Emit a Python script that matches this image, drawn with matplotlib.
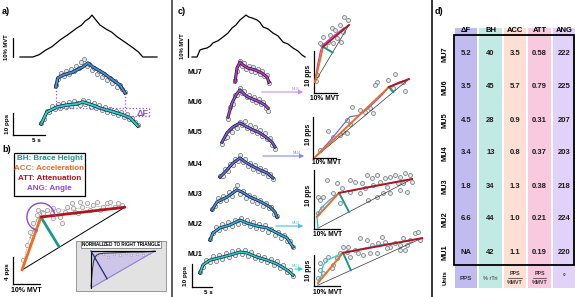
import numpy as np
import matplotlib
matplotlib.use("Agg")
import matplotlib.pyplot as plt
import matplotlib.patheffects as pe
from matplotlib.patches import Rectangle, Polygon

plt.rcParams["font.family"] = ["Liberation Sans", "DejaVu Sans"]
plt.rcParams["font.weight"] = "bold"

# ====================== DATA ======================
# (a) force trace: time (s), force (%MVT)
a_force_t = [0, 2.0, 3.0, 4.0, 5.0, 6.25, 7.5, 8.9, 9.6, 10.2, 10.8, 11.25, 11.8, 12.5, 13.5, 14.3, 15.2, 16.5, 17.7, 18.5, 19.2, 21.4]
a_force = [0, 0, 1.2, 3.5, 5.3, 8.7, 11.5, 14.9, 16.3, 18.5, 19.8, 21.5, 19.2, 16.4, 14.2, 12.8, 10.3, 7.4, 4.6, 2.6, 0, 0]
# (a) low-threshold (test) unit: smoothed rate and instantaneous rates (pps)
a_low_t = [3.3, 4.2, 5.8, 7.3, 8.9, 9.8, 11.3, 12.5, 14.1, 16.1, 17.2, 18.4]
a_low_rate = [7.3, 12.7, 15.0, 15.9, 16.4, 17.3, 15.9, 14.5, 13.2, 11.4, 10.0, 6.4]
a_low_scatter = [7.8, 9.4, 13.4, 12.8, 15.3, 13.9, 16.2, 14.6, 16.8, 15.0, 17.1, 15.4, 17.6, 16.9, 15.7, 18.4,
                 16.2, 17.5, 15.2, 16.8, 14.4, 15.9, 13.5, 15.1, 12.9, 14.0, 12.1, 13.3, 11.2, 12.6, 10.5, 11.8,
                 9.6, 10.1, 8.4, 7.0]
# (a) higher-threshold (control) unit
a_high_t = [5.6, 5.9, 6.7, 8.3, 9.8, 10.6, 11.4, 13.0, 14.5, 15.6, 16.4]
a_high_rate = [9.1, 13.2, 14.5, 15.9, 18.2, 20.0, 18.2, 15.5, 12.3, 10.0, 6.4]
a_high_scatter = [9.8, 12.7, 15.3, 14.1, 16.4, 14.9, 17.3, 16.4, 18.6, 17.7, 20.3, 21.6, 18.5, 19.6, 16.9, 17.9,
                  15.2, 16.4, 13.8, 14.9, 12.3, 13.4, 10.9, 11.9, 9.3, 10.2, 8.1, 7.0]

# (b) schematic: force (%MVT), rate (pps)
b_start = (0.0, 0.0)
b_knee = (7.0, 7.85)
b_end = (38.1, 9.3)
b_fit_x = [0.0, 1.5, 3.0, 4.5, 6.0, 8.0, 11.0, 15.0, 20.0, 25.0, 30.0, 35.0, 38.1]
b_fit_y = [0.0, 2.8, 5.0, 6.6, 7.8, 8.5, 8.8, 8.9, 9.1, 9.3, 9.5, 9.5, 9.3]
b_pts_x = [0.4, 1.9, 3.7, 3.0, 4.8, 4.1, 5.9, 5.6, 7.4, 9.3, 11.1, 11.5, 13.3, 14.1, 14.8, 16.7, 18.5, 18.9, 20.7,
           22.2, 24.1, 25.2, 26.3, 27.8, 28.9, 30.0, 31.5, 32.6, 34.4, 35.6, 37.0, 21.5, 19.6, 11.5, 15.9, 7.8, 5.9]
b_pts_y = [1.5, 3.7, 4.9, 5.6, 5.9, 7.0, 7.4, 8.1, 8.6, 8.9, 8.4, 9.2, 8.9, 7.9, 7.0, 9.3, 9.9, 9.2, 8.4,
           9.3, 9.9, 8.9, 9.6, 10.1, 8.9, 9.3, 9.9, 10.1, 9.3, 9.9, 9.6, 10.1, 8.6, 7.7, 8.6, 8.4, 8.9]
# (b) inset, normalized to right triangle
ins_curve_x = [0.0, 0.02, 0.04, 0.07, 0.12, 0.2, 0.35, 0.5, 0.65, 0.8, 0.9, 1.0]
ins_curve_y = [0.05, 0.45, 0.72, 0.86, 0.92, 0.94, 0.95, 0.96, 0.97, 0.97, 0.98, 1.0]
ins_pts_x = [0.04, 0.1, 0.18, 0.27, 0.36, 0.45, 0.55, 0.63, 0.72, 0.82, 0.9]
ins_pts_y = [0.78, 0.88, 0.92, 0.85, 0.93, 0.88, 0.94, 0.89, 0.93, 0.9, 0.95]

# (c) force trace
c_force_t = [0, 1.25, 2, 2.6, 3.75, 4.5, 5.25, 6.5, 7.75, 9, 10, 11, 12, 12.8, 13.5, 14.2, 15, 16.25, 17, 17.75,
             19, 20.25, 21.5, 22.75, 24, 25.25, 26.5, 27.5, 28.25]
c_force = [0, 0, 3.9, 4.4, 5.0, 6.0, 7.8, 9.0, 11.1, 13.3, 16.1, 17.8, 20.6, 22.0, 23.3, 22.2, 21.7, 20.6, 19.2,
           16.7, 15.6, 13.3, 11.7, 8.3, 7.2, 5.0, 3.3, 1.1, 0]
# (c) motor units, MU1 .. MU7
mu_names = ["MU1", "MU2", "MU3", "MU4", "MU5", "MU6", "MU7"]
mu_colors = ["#22d0dc", "#28b6ec", "#3d8ee6", "#606fe6", "#8355e2", "#a548e0", "#c62fd4"]
mu_t = [
    [2, 2.75, 4.5, 7.5, 9.5, 12, 13.75, 16.25, 18.75, 21.25, 23.75, 25.25],
    [4.5, 5.25, 7, 9.5, 12, 13.75, 16.25, 18.75, 21.25, 23.75, 25.25],
    [5, 6.25, 8.75, 11.25, 12.5, 14.5, 16.25, 17.75, 19.5, 20.75, 21.25],
    [7, 8.75, 10.25, 12, 13.25, 15, 17, 18.75, 20.25],
    [7.5, 8.75, 10.25, 12, 13.75, 15.25, 17, 18.75, 20, 20.75],
    [9, 10, 11, 12, 13.25, 14, 15.75, 17, 18.25, 19],
    [10.75, 11.25, 12, 12.75, 14, 15.75, 17.5, 18.75, 19.25],
]
mu_rate = [
    [7.4, 10.9, 13.0, 14.3, 15.2, 16.5, 16.1, 14.3, 13.0, 11.3, 8.7, 6.5],
    [8.2, 11.3, 13.5, 14.8, 16.9, 15.6, 14.3, 13.5, 11.3, 9.1, 5.2],
    [7.8, 11.3, 13.4, 16.5, 15.6, 13.4, 12.1, 10.8, 9.1, 6.9, 4.7],
    [8.6, 11.7, 14.7, 16.9, 15.2, 13.4, 11.7, 10.4, 8.2],
    [10.3, 14.3, 16.9, 18.6, 16.9, 15.6, 14.3, 12.1, 10.3, 8.2],
    [7.7, 13.8, 17.3, 19.5, 17.3, 16.4, 15.1, 14.2, 12.9, 11.6],
    [9.4, 15.5, 18.1, 16.8, 15.5, 14.7, 13.3, 11.6, 9.4],
]
mu_scatter = [
    [8.0, 10.2, 13.1, 12.2, 14.6, 12.8, 15.3, 13.5, 16.0, 14.2, 16.8, 15.1, 17.6, 15.5, 17.4, 14.9, 16.4, 13.8,
     15.4, 12.9, 14.5, 12.1, 13.6, 11.0, 12.4, 9.6, 10.8, 8.0, 8.9, 6.0],
    [8.8, 11.2, 13.9, 12.6, 15.0, 13.4, 15.9, 14.3, 16.9, 15.4, 18.0, 15.6, 17.0, 14.4, 16.0, 13.5, 15.2, 12.9,
     14.6, 11.9, 13.2, 10.6, 11.9, 9.1, 10.4, 7.6, 7.9, 5.0],
    [8.4, 9.7, 12.9, 11.6, 14.0, 12.3, 15.4, 14.0, 17.1, 18.8, 14.7, 16.0, 13.1, 14.3, 11.8, 13.4, 10.9, 12.2,
     9.7, 10.9, 8.5, 9.2, 6.1, 5.2],
    [9.2, 9.0, 12.1, 11.3, 14.4, 13.9, 16.6, 15.4, 18.0, 15.2, 16.4, 13.5, 14.7, 12.2, 13.8, 11.1, 12.7, 10.3,
     11.6, 9.1, 9.9, 7.6],
    [9.4, 12.3, 12.7, 15.6, 14.9, 17.5, 16.4, 19.0, 17.7, 19.3, 16.5, 17.8, 15.3, 16.9, 14.2, 15.5, 13.1, 14.1,
     11.6, 12.2, 9.1, 7.5],
    [7.0, 11.9, 13.2, 17.1, 17.1, 20.4, 18.2, 19.1, 16.2, 17.4, 15.0, 16.4, 14.1, 15.5, 13.2, 14.3, 11.8, 10.4],
    [10.2, 14.4, 18.6, 16.4, 17.6, 15.1, 16.6, 14.3, 15.9, 13.9, 15.2, 13.0, 14.3, 11.9, 12.4, 9.0],
]
# (c) rate-vs-force fits for selected units: force (%MVT), rate (pps)
fit_units = ["MU6", "MU4", "MU2", "MU1"]
fit_base = [(0.4, 2.6), (0.9, 0.2), (1.7, 0.2), (1.7, 0.2)]
fit_start = [(0.4, 2.6), (0.9, 0.2), (1.3, 2.9), (1.7, 0.7)]
fit_knee = [(3.9, 11.0), (33.0, 16.9), (10.9, 8.6), (12.6, 7.9)]
fit_end = [(15.2, 16.2), (41.7, 18.8), (42.6, 11.9), (47.0, 11.4)]
fit_line_x = [
    [0.4, 1.5, 2.8, 3.9, 5.5, 7.5, 10.0, 13.0],
    [0.9, 8.0, 14.0, 16.0, 20.0, 24.0, 30.0, 33.0, 38.0],
    [1.7, 1.3, 2.5, 4.0, 7.0, 10.9, 15.0, 20.0, 25.0, 30.0, 35.0, 42.6],
    [1.7, 2.0, 3.2, 4.0, 6.0, 9.0, 12.6, 20.0, 30.0, 38.0, 47.0],
]
fit_line_y = [
    [2.6, 6.5, 10.0, 11.5, 12.2, 13.2, 14.2, 15.5],
    [0.2, 4.5, 8.5, 9.8, 10.2, 11.8, 15.0, 16.9, 18.2],
    [0.2, 3.0, 4.5, 5.5, 7.0, 8.6, 9.0, 9.5, 10.2, 10.6, 11.2, 11.9],
    [0.2, 1.5, 2.4, 5.0, 6.2, 7.0, 7.9, 8.8, 9.9, 10.5, 11.4],
]
fit_pts_x = [
    [13.0, 14.8, 11.3, 7.8, 9.1, 12.6, 7.0, 3.9, 10.0, 6.1, 3.5, 4.8, 2.6, 1.3, 0.9, 8.3, 11.7],
    [35.7, 32.6, 27.8, 27.0, 39.1, 40.0, 34.8, 17.0, 20.4, 22.6, 24.8, 26.1, 14.8, 13.0, 14.8, 16.1, 6.5, 11.7,
     8.7, 3.0],
    [5.7, 10.0, 12.2, 15.7, 17.8, 20.9, 23.0, 25.2, 27.4, 28.7, 30.9, 33.0, 35.2, 37.4, 39.6, 41.7, 40.4, 37.4,
     33.0, 30.0, 27.4, 23.5, 1.7, 2.6, 3.9, 3.5, 1.7, 8.3, 11.3, 15.7, 20.0, 22.2, 25.7, 31.7, 36.5, 42.6, 38.7],
    [2.6, 4.8, 6.1, 8.3, 10.0, 11.3, 14.3, 15.7, 17.8, 19.1, 20.0, 23.0, 25.2, 27.8, 29.6, 30.9, 33.0, 35.2,
     37.4, 38.7, 40.4, 41.7, 43.9, 45.2, 46.1, 37.4, 39.6, 24.3, 21.3, 27.4, 31.7, 2.6, 3.9, 7.8, 1.7, 12.6, 14.8],
]
fit_pts_y = [
    [18.1, 17.4, 16.2, 15.5, 15.0, 14.5, 13.8, 13.3, 13.1, 12.1, 11.4, 11.2, 11.9, 4.3, 2.9, 11.9, 12.1],
    [20.0, 18.6, 18.1, 17.4, 18.1, 16.0, 16.7, 12.1, 11.4, 11.0, 11.9, 10.7, 9.0, 6.2, 6.0, 8.1, 6.4, 5.5, 5.0,
     1.9],
    [11.7, 11.0, 9.8, 11.7, 11.2, 11.0, 12.9, 12.1, 12.9, 11.2, 12.1, 12.4, 12.9, 12.4, 13.3, 12.9, 8.8, 9.3,
     8.6, 8.6, 7.6, 6.9, 7.6, 6.9, 7.6, 5.0, 3.8, 8.6, 6.2, 8.8, 8.6, 9.8, 10.5, 10.0, 11.0, 11.2, 11.0],
    [5.5, 6.2, 6.9, 5.0, 6.7, 7.9, 8.1, 6.9, 8.6, 7.9, 11.4, 11.0, 9.8, 10.2, 11.7, 10.5, 9.3, 10.2, 9.8, 11.4,
     9.8, 11.0, 12.6, 12.9, 11.0, 8.6, 8.6, 7.9, 7.4, 7.9, 9.0, 3.8, 3.1, 4.3, 1.9, 9.3, 9.3],
]

# (d) table
tbl_cols = ["\u0394F", "BH", "ACC", "ATT", "ANG"]
tbl_rows = ["MU7", "MU6", "MU5", "MU4", "MU3", "MU2", "MU1"]
tbl_dF = ["5.2", "3.5", "4.5", "3.4", "1.8", "6.6", "NA"]
tbl_BH = [40, 45, 28, 13, 34, 44, 42]
tbl_ACC = [3.5, 5.7, 0.9, 0.8, 1.3, 1.0, 1.1]
tbl_ATT = [0.58, 0.79, 0.31, 0.37, 0.38, 0.21, 0.19]
tbl_ANG = [222, 225, 207, 203, 218, 224, 220]
tbl_col_colors = ["#c1bbf2", "#c2eae4", "#fddfd3", "#f8c9df", "#e2d1f8"]

# ====================== STYLE ======================
ORANGE = "#f36a21"
RED = "#b5121b"
TEAL = "#169a8c"
PURPLE = "#8d45e6"
DFCOL = "#8a55c8"
BLUE_A = "#3d8fe3"
CYAN_A = "#1fd4d8"
SC = dict(ls="none", marker="o", ms=3.0, mfc="#e3eaea", mec="#56616b", mew=0.45)

W, H = 575, 297
fig = plt.figure(figsize=(W / 100, H / 100), dpi=100)

ov = fig.add_axes([0, 0, 1, 1])
ov.set_xlim(0, W)
ov.set_ylim(H, 0)
ov.set_axis_off()


def px_axes(l, t, r, b, ox, oy, sx, sy):
    ax = fig.add_axes([l / W, 1 - b / H, (r - l) / W, (b - t) / H])
    ax.set_xlim((l - ox) / sx, (r - ox) / sx)
    ax.set_ylim((oy - b) / sy, (oy - t) / sy)
    ax.set_axis_off()
    return ax


def foot(ax, p0, p1, q):
    T = ax.transData
    a, b, c = T.transform([p0, p1, q])
    d = b - a
    t = np.dot(c - a, d) / np.dot(d, d)
    return T.inverted().transform(a + t * d)


def stroked(lw):
    return [pe.Stroke(linewidth=lw + 1.0, foreground="#1a1a1a"), pe.Normal()]


# separators and panel labels
ov.plot([171.5, 171.5], [0, H], color="#333333", lw=1.1)
ov.plot([432, 432], [0, H], color="#333333", lw=1.4)
for lab, x, y in [("a)", 2, 12), ("b)", 2, 150), ("c)", 178, 12), ("d)", 435, 12)]:
    ov.text(x, y, lab, fontsize=6.5, ha="left", va="center")

# ---------------- (a) ----------------
sxa, sfa, sra = 6.4, 1.95, 2.2
axAf = px_axes(0, 8, 165, 60, 20, 57, sxa, sfa)
axAf.plot(a_force_t, a_force, color="k", lw=0.9)
ov.plot([13, 13], [57, 57 - 10 * sfa], color="k", lw=0.9)
ov.text(7, 57 - 5 * sfa, "10% MVT", rotation=90, ha="center", va="center", fontsize=4.2)

axAr = px_axes(0, 55, 165, 145, 20, 140, sxa, sra)
hi_off = 15.0
axAr.plot(np.linspace(a_low_t[0], a_low_t[-1], len(a_low_scatter)), a_low_scatter, **SC)
axAr.plot(np.linspace(a_high_t[0], a_high_t[-1], len(a_high_scatter)), np.array(a_high_scatter) + hi_off, **SC)
axAr.plot(a_low_t, a_low_rate, color=CYAN_A, lw=1.4, path_effects=stroked(1.4))
axAr.plot(a_high_t, np.array(a_high_rate) + hi_off, color=BLUE_A, lw=1.4, path_effects=stroked(1.4))
t_rec, t_der = a_high_t[0], a_high_t[-1]
r_rec = np.interp(t_rec, a_low_t, a_low_rate)
r_der = np.interp(t_der, a_low_t, a_low_rate)
x_end = (149 - 20) / sxa
dkw = dict(color=DFCOL, ls=":", lw=0.9)
axAr.plot([t_rec, t_rec], [a_high_rate[0] + hi_off, r_rec], **dkw)
axAr.plot([t_rec, x_end], [r_rec, r_rec], **dkw)
axAr.plot([t_der, t_der], [a_high_rate[-1] + hi_off, r_der], **dkw)
axAr.plot([t_der, x_end], [r_der, r_der], **dkw)
axAr.plot([x_end, x_end], [r_der, r_rec], **dkw)
ov.text(143, 113, "\u0394F", color=DFCOL, fontsize=6.5, ha="center", va="center")
ov.plot([13, 13], [135, 135 - 10 * sra], color="k", lw=0.9)
ov.plot([13, 13 + 5 * sxa], [135, 135], color="k", lw=0.9)
ov.text(7, 124, "10 pps", rotation=90, ha="center", va="center", fontsize=4.6)
ov.text(36, 141, "5 s", ha="center", va="center", fontsize=4.5)

# ---------------- (b) ----------------
ov.add_patch(Rectangle((14, 153), 71, 43, fc="white", ec="k", lw=0.9))
for txt, col, y in [("BH: Brace Height", TEAL, 158), ("ACC: Acceleration", ORANGE, 168),
                    ("ATT: Attenuation", RED, 178), ("ANG: Angle", PURPLE, 188)]:
    ov.text(49.5, y, txt, color=col, fontsize=5.8, ha="center", va="center")

sxb, syb = 2.7, 6.75
axB = px_axes(10, 196, 135, 292, 22, 270, sxb, syb)
axB.plot(b_fit_x, b_fit_y, color="#b0b0b0", lw=0.6, ls=(0, (2, 1)))
axB.plot(b_pts_x, b_pts_y, **dict(SC, mfc="#f0f0f0", mec="#8a8a8a"))
axB.plot([b_start[0], b_end[0]], [b_start[1], b_end[1]], color="k", lw=0.7)
bf = foot(axB, b_start, b_end, b_knee)
axB.plot([b_knee[0], bf[0]], [b_knee[1], bf[1]], color=TEAL, lw=2.0, solid_capstyle="butt")
axB.plot([b_start[0], b_knee[0]], [b_start[1], b_knee[1]], color=ORANGE, lw=2.0, solid_capstyle="round")
axB.plot([b_knee[0], b_end[0]], [b_knee[1], b_end[1]], color=RED, lw=2.0, solid_capstyle="round")
T = axB.transData
kd, sd, ed = T.transform([b_knee, b_start, b_end])
a1 = np.arctan2(*(ed - kd)[::-1])
a2 = np.arctan2(*(sd - kd)[::-1]) + 2 * np.pi
ang = np.linspace(a1, a2, 80)
arc = T.inverted().transform(np.column_stack([kd[0] + 14 * np.cos(ang), kd[1] + 14 * np.sin(ang)]))
axB.plot(arc[:, 0], arc[:, 1], color=PURPLE, lw=1.0)
ov.plot([13, 13], [284, 284 - 4 * syb], color="k", lw=0.9)
ov.plot([13, 13 + 10 * sxb], [284, 284], color="k", lw=0.9)
ov.text(7, 272, "4 pps", rotation=90, ha="center", va="center", fontsize=4.6)
ov.text(26, 291, "10% MVT", ha="center", va="center", fontsize=5.0)

# inset
axI = px_axes(76, 241, 166, 291, 91, 288, 64, 37)
axI.add_patch(Rectangle((0, 0), 1, 1, transform=axI.transAxes, fc="#e2e2e2", ec="#8a8a8a", lw=0.6, clip_on=False))
axI.add_patch(Polygon([[0, 0], [0, 1], [1, 1]], closed=True, fc="#cdc6e8", ec="none"))
axI.plot(ins_pts_x, ins_pts_y, ls="none", marker="o", ms=1.8, mfc="#eeeeee", mec="#8a8a8a", mew=0.3)
axI.plot(ins_curve_x, ins_curve_y, color="#303030", lw=0.7)
axI.plot([0, 1], [0, 1], color="#8e7fd6", lw=0.8)
axI.plot([0, 0, 1], [0, 1, 1], color="k", lw=0.8)
nf = foot(axI, (0, 0), (1, 1), (0, 1))
axI.plot([0, nf[0]], [1, nf[1]], color="#1f2a70", lw=0.9)
axI.text(0.47, 1.185, "NORMALIZED TO RIGHT TRIANGLE", fontsize=3.3, ha="center", va="center",
         bbox=dict(boxstyle="square,pad=0.25", fc="white", ec="#666666", lw=0.5))

# ---------------- (c) ----------------
sxc, sfc, src = 4.0, 1.8, 2.3
axCf = px_axes(175, 8, 310, 60, 192, 57, sxc, sfc)
axCf.plot(c_force_t, c_force, color="k", lw=0.9)
ov.plot([188, 188], [57, 57 - 10 * sfc], color="k", lw=0.9)
ov.text(182, 46, "10% MVT", rotation=90, ha="center", va="center", fontsize=4.2)

axCr = px_axes(175, 55, 310, 294, 192, 290, sxc, src)
row_step = 13.5
mu_label_y = [255, 225, 195, 165, 133, 103, 73]
for k in range(len(mu_names)):
    off = row_step * k
    st = np.linspace(mu_t[k][0], mu_t[k][-1], len(mu_scatter[k]))
    axCr.plot(st, np.array(mu_scatter[k]) + off, **SC)
    axCr.plot(mu_t[k], np.array(mu_rate[k]) + off, color=mu_colors[k], lw=1.2, path_effects=stroked(1.2))
    ov.text(188, mu_label_y[k], mu_names[k], fontsize=5.0, ha="left", va="center")
ov.plot([192, 192], [287, 287 - 10 * src], color="k", lw=0.9)
ov.plot([192, 192 + 5 * sxc], [287, 287], color="k", lw=0.9)
ov.text(186, 276, "10 pps", rotation=90, ha="center", va="center", fontsize=4.6)
ov.text(208, 292, "5 s", ha="center", va="center", fontsize=4.5)

# arrows to the fit panels
arrow_spec = {"MU6": (92, 259, 306), "MU4": (156, 260, 307), "MU2": (226, 273, 306), "MU1": (269, 292, 306)}
arrow_cols = {"MU6": "#c98cf0", "MU4": "#7d8ef0", "MU2": "#3fc3f0", "MU1": "#2fd3e6"}
for name, (y, x0, x1) in arrow_spec.items():
    ov.annotate("", xy=(x1, y), xytext=(x0, y),
                arrowprops=dict(arrowstyle="-|>,head_length=0.25,head_width=0.12", color=arrow_cols[name], lw=0.8))
    ov.text(x1 - 10, y - 3, name, color=arrow_cols[name], fontsize=2.8, ha="center", va="center",
            fontweight="normal")

# fit panels
sxm, sym = 2.3, 4.2
mini_layout = {
    "MU6": dict(box=(305, 8, 360, 96), origin=(314, 93), vbar=10.0, hbar=10.0, pl=(308, 75), ml=(325, 99)),
    "MU4": dict(box=(305, 65, 415, 160), origin=(313, 158), vbar=9.8, hbar=10.0, pl=(308, 134), ml=(327, 163)),
    "MU2": dict(box=(305, 165, 425, 231), origin=(314, 229), vbar=14.0, hbar=11.3, pl=(308, 195), ml=(328, 234)),
    "MU1": dict(box=(305, 225, 430, 289), origin=(314, 286), vbar=7.4, hbar=11.3, pl=(308, 270), ml=(328, 293)),
}
for i, name in enumerate(fit_units):
    L = mini_layout[name]
    l, t, r, b = L["box"]
    ax = px_axes(l, t, r, b, L["origin"][0], L["origin"][1], sxm, sym)
    col = mu_colors[mu_names.index(name)]
    ax.plot([0, 0], [0, L["vbar"]], color="k", lw=0.9, clip_on=False)
    ax.plot([0, L["hbar"]], [0, 0], color="k", lw=0.9, clip_on=False)
    ax.plot(fit_pts_x[i], fit_pts_y[i], clip_on=False, **dict(SC, ms=2.8))
    ax.plot([fit_base[i][0], fit_end[i][0]], [fit_base[i][1], fit_end[i][1]], color="#333333", lw=0.5,
            clip_on=False)
    ax.plot(fit_line_x[i], fit_line_y[i], color=col, lw=0.9, clip_on=False)
    f = foot(ax, fit_base[i], fit_end[i], fit_knee[i])
    ax.plot([fit_knee[i][0], f[0]], [fit_knee[i][1], f[1]], color=TEAL, lw=1.4, clip_on=False)
    ax.plot([fit_start[i][0], fit_knee[i][0]], [fit_start[i][1], fit_knee[i][1]], color=ORANGE, lw=1.4,
            clip_on=False)
    ax.plot([fit_knee[i][0], fit_end[i][0]], [fit_knee[i][1], fit_end[i][1]], color=RED, lw=1.4, clip_on=False)
    ov.text(L["pl"][0], L["pl"][1], "10 pps", rotation=90, ha="center", va="center", fontsize=4.8)
    ov.text(L["ml"][0], L["ml"][1], "10% MVT", ha="center", va="center", fontsize=4.8)

# ---------------- (d) table ----------------
c0, cw, r0, rh = 466, 24.5, 54, 33
tab = fig.add_axes([440 / W, 0, 135 / W, 271 / H])
tab.set_xlim((440 - c0) / cw, (575 - c0) / cw)
tab.set_ylim((297 - r0) / rh, (26 - r0) / rh)
tab.set_axis_off()
top_r, bot_r = (28 - r0) / rh, (288 - r0) / rh
tab.bar(range(len(tbl_cols)), bot_r - top_r, bottom=top_r, width=0.93, color=tbl_col_colors, zorder=0)
head_r = (31 - r0) / rh
for i, c in enumerate(tbl_cols):
    tab.text(i, head_r, c, fontsize=5.5, ha="center", va="center")
tab.add_patch(Rectangle(((454 - c0) / cw, (35 - r0) / rh), 120 / cw, 230 / rh, fc="none", ec="k", lw=1.3,
                        zorder=3, clip_on=False))
cols_vals = [tbl_dF,
             [f"{v:d}" for v in tbl_BH],
             [f"{v:.1f}" for v in tbl_ACC],
             [f"{v:.2f}" for v in tbl_ATT],
             [f"{v:d}" for v in tbl_ANG]]
lab_x = (445 - c0) / cw
for j, rn in enumerate(tbl_rows):
    tab.text(lab_x, j, rn, rotation=90, fontsize=5.3, ha="center", va="center")
    for i in range(len(tbl_cols)):
        tab.text(i, j, cols_vals[i][j], fontsize=5.5, ha="center", va="center", color="#1c1c1c")
unit_r = (278 - r0) / rh
tab.text(lab_x, unit_r, "Units", rotation=90, fontsize=4.2, ha="center", va="center")
tab.text(0, unit_r, "PPS", fontsize=4.4, ha="center", va="center", color="#333333")
tab.text(1, unit_r, "% rTri", fontsize=4.0, ha="center", va="center", color="#333333", fontweight="normal")
for i in (2, 3):
    tab.text(i, unit_r - 0.13, "PPS", fontsize=3.8, ha="center", va="center", color="#333333")
    tab.plot([i - 0.28, i + 0.28], [unit_r, unit_r], color="#333333", lw=0.5)
    tab.text(i, unit_r + 0.14, "%MVT", fontsize=3.8, ha="center", va="center", color="#333333")
tab.text(4, unit_r, "\u00b0", fontsize=5, ha="center", va="center", color="#333333")

fig.savefig("out.png", dpi=100)
